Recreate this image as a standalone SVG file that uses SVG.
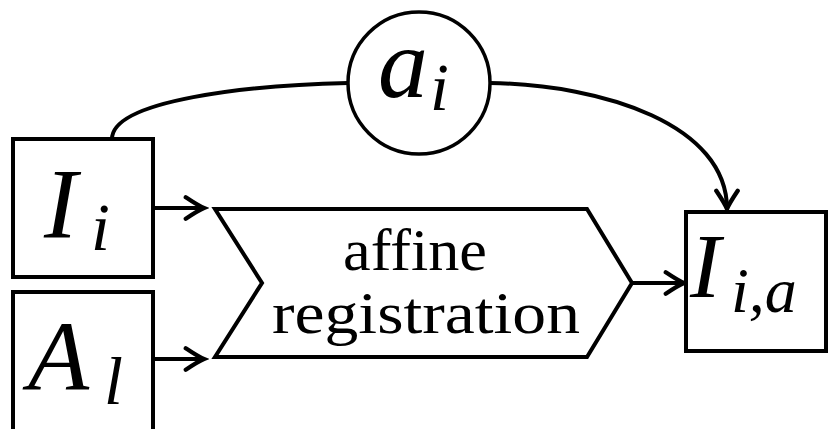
<svg xmlns="http://www.w3.org/2000/svg" width="831" height="429" viewBox="0 0 831 429">
<style>
.box{fill:#fff;stroke:#000;stroke-width:4}
.circ{fill:#fff;stroke:#000;stroke-width:3.5}
.line{fill:none;stroke:#000;stroke-width:4}
.math{font-family:'Liberation Serif','Times New Roman',Times,serif;font-style:italic;fill:#000}
.rm{font-family:'Liberation Serif','Times New Roman',Times,serif;fill:#000;font-size:60px}
</style>
<defs>
<marker id="arr" markerUnits="userSpaceOnUse" markerWidth="30" markerHeight="30" viewBox="-22 -14 26 28" refX="0" refY="0" orient="auto">
<path d="M-17,-10 Q-5,-2 0,0 Q-5,2 -17,10" fill="none" stroke="#000" stroke-width="4" stroke-linecap="round"/>
</marker>
</defs>
<g id="connectors">
<path class="line" d="M112,139 C112,100 250,85 348,83"/>
<path class="line" d="M490,83 C605,85 727,125 727,209" marker-end="url(#arr)"/>
<path class="line" d="M153,208 L204,208" marker-end="url(#arr)"/>
<path class="line" d="M153,359 L204,359" marker-end="url(#arr)"/>
<path class="line" d="M632,283 L684,283" marker-end="url(#arr)"/>
</g>
<g id="node-Ii">
<rect class="box" x="13" y="139" width="140" height="138"/>
<text class="math" x="44" y="237" font-size="100">I</text>
<text class="math" x="91" y="250" font-size="68">i</text>
</g>
<g id="node-Al">
<rect class="box" x="13" y="292" width="140" height="150"/>
<text class="math" x="28" y="390" font-size="100">A</text>
<text class="math" x="104" y="404" font-size="68">l</text>
</g>
<g id="node-ai">
<circle class="circ" cx="419" cy="83" r="71"/>
<text class="math" x="378" y="97" font-size="100" textLength="50" lengthAdjust="spacingAndGlyphs">a</text>
<text class="math" x="430" y="110" font-size="68">i</text>
</g>
<g id="node-reg">
<polygon class="box" points="215,209 587,209 632,283 587,357 215,357 262,283"/>
<text class="rm" x="343" y="270" textLength="144" lengthAdjust="spacingAndGlyphs">affine</text>
<text class="rm" x="272" y="333" textLength="308" lengthAdjust="spacingAndGlyphs">registration</text>
</g>
<g id="node-Iia">
<rect class="box" x="686" y="212" width="140" height="139"/>
<text class="math" x="690" y="297" font-size="92">I</text>
<text class="math" x="731" y="312" font-size="64">i,a</text>
</g>
</svg>
